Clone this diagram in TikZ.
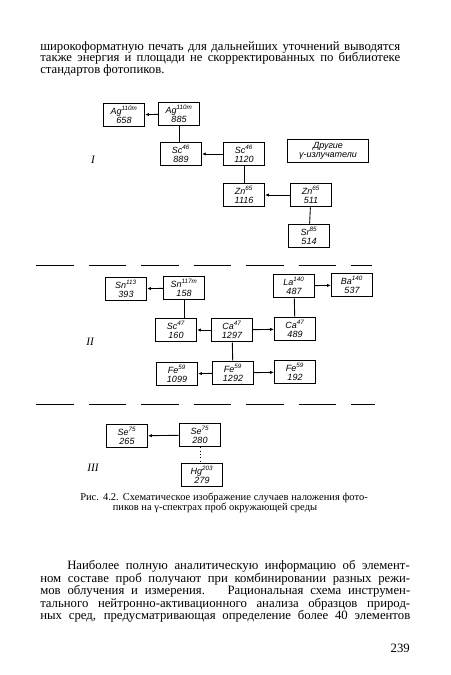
\documentclass[tikz,border=0pt]{standalone}
\usepackage{fontspec}
\setmainfont{Liberation Serif}
\newfontfamily\boxfont{Liberation Sans}
\usetikzlibrary{positioning,arrows.meta}

\begin{document}
\begin{tikzpicture}[x=0.8pt, y=-0.8pt,
    box/.style={draw, line width=0.7pt, minimum width=33pt, minimum height=19pt, inner sep=0.5pt, align=center, font=\boxfont\itshape\fontsize{7.2}{7.6}\selectfont},
    txt/.style={anchor=west, inner sep=0pt, font=\fontsize{10.2}{11}\selectfont},
    captext/.style={inner sep=0pt, font=\fontsize{8.4}{9}\selectfont},
    part/.style={font=\itshape\fontsize{9}{10}\selectfont},
    link/.style={line width=0.7pt},
    arr/.style={line width=0.7pt, -{Latex[length=3pt,width=2.6pt]}},
    sepline/.style={line width=0.7pt, dash pattern=on 30pt off 12pt}]
    \useasboundingbox (0,0) rectangle (450,675);

    % text above the figure
    \node[txt] (t1) at (40,47) {\makebox[288pt][s]{широкоформатную печать для дальнейших уточнений выводятся}};
    \node[txt] (t2) at (40,58) {\makebox[288pt][s]{также энергия и площади не скорректированных по библиотеке}};
    \node[txt] (t3) at (40,70) {стандартов фотопиков.};

    % group I
    \node[part] (pI) at (93,160) {I};
    \node[box] (agA) at (124,115) {Ag\textsuperscript{110m}\\658};
    \node[box] (agB) at (179,114) {Ag\textsuperscript{110m}\\885};
    \node[box] (scA) at (181,154) {Sc\textsuperscript{46}\\889};
    \node[box] (scB) at (244,154) {Sc\textsuperscript{46}\\1120};
    \node[box, minimum width=65pt] (other) at (328,151) {Другие\\γ-излучатели};
    \node[box] (znA) at (244,195) {Zn\textsuperscript{65}\\1116};
    \node[box] (znB) at (311,195) {Zn\textsuperscript{65}\\511};
    \node[box] (sr) at (309,236) {Sr\textsuperscript{85}\\514};
    \draw[arr] (agB) -- (agA);
    \draw[link] (agB.south) -- (agB.south |- scA.north);
    \draw[arr] (scB) -- (scA);
    \draw[link] (scB) -- (znA);
    \draw[arr] (znB) -- (znA);
    \draw[link] (znB) -- (sr);

    \draw[sepline] (36,265) -- (372,265);

    % group II
    \node[part] (pII) at (90,342) {II};
    \node[box] (snA) at (126,289) {Sn\textsuperscript{113}\\393};
    \node[box] (snB) at (184,288) {Sn\textsuperscript{117m}\\158};
    \node[box] (scC) at (176,330) {Sc\textsuperscript{47}\\160};
    \node[box] (caA) at (232,330) {Ca\textsuperscript{47}\\1297};
    \node[box] (caB) at (295,329) {Ca\textsuperscript{47}\\489};
    \node[box] (laA) at (294,286) {La\textsuperscript{140}\\487};
    \node[box] (ba) at (352,285) {Ba\textsuperscript{140}\\537};
    \node[box] (feA) at (177,374) {Fe\textsuperscript{59}\\1099};
    \node[box] (feB) at (233,373) {Fe\textsuperscript{59}\\1292};
    \node[box] (feC) at (295,372) {Fe\textsuperscript{59}\\192};
    \draw[arr] (snB) -- (snA);
    \draw[link] (snB.south) -- (snB.south |- scC.north);
    \draw[arr] (caA) -- (scC);
    \draw[arr] (caA) -- (caB);
    \draw[link] (caB) -- (laA);
    \draw[arr] (laA) -- (ba);
    \draw[link] (caA) -- (feB);
    \draw[arr] (feB) -- (feA);
    \draw[arr] (feB) -- (feC);

    \draw[sepline] (36,404) -- (375,404);

    % group III
    \node[part] (pIII) at (93,468) {III};
    \node[box] (seA) at (127,436) {Se\textsuperscript{75}\\265};
    \node[box] (seB) at (200,435) {Se\textsuperscript{75}\\280};
    \node[box] (hg) at (202,475) {Hg\textsuperscript{203}\\279};
    \draw[arr] (seB) -- (seA);
    \draw[link, dotted] (seB.south) -- (seB.south |- hg.north);

    % caption
    \node[captext] (c1) at (224,498) {\makebox[230pt][s]{Рис. 4.2. Схематическое изображение случаев наложения фото-}};
    \node[captext] (c2) at (215,508) {пиков на γ-спектрах проб окружающей среды};

    % text below the figure
    \node[txt] (b1) at (67,566) {\makebox[274pt][s]{Наиболее полную аналитическую информацию об элемент-}};
    \node[txt] (b2) at (40,579) {\makebox[296pt][s]{ном составе проб получают при комбинировании разных режи-}};
    \node[txt] (b3) at (40,591) {\makebox[296pt][s]{мов облучения и измерения.\hspace{6pt} Рациональная схема инструмен-}};
    \node[txt] (b4) at (40,604) {\makebox[296pt][s]{тального нейтронно-активационного анализа образцов природ-}};
    \node[txt] (b5) at (40,616) {\makebox[296pt][s]{ных сред, предусматривающая определение более 40 элементов}};
    \node[txt, anchor=east] (pg) at (410,648) {239};
\end{tikzpicture}
\end{document}
